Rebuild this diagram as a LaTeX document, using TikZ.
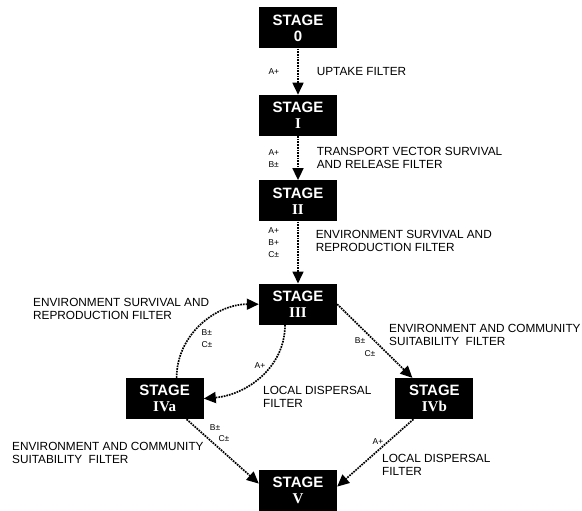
\documentclass[tikz,border=0pt]{standalone}
\usepackage{fontspec}
\setmainfont{Liberation Sans}
\newfontfamily\numfont{Liberation Serif}
\usetikzlibrary{arrows.meta, positioning}

\begin{document}
\begin{tikzpicture}[
    x=1pt, y=-1pt,
    node distance=46pt and 55pt,
    stagebox/.style={fill=black, text=white, minimum width=78pt, minimum height=41pt, inner sep=0pt, align=center, font=\fontsize{15}{16}\selectfont\bfseries},
    txt/.style={anchor=west, align=left, inner sep=0pt, font=\fontsize{11.8}{12.5}\selectfont},
    lbl/.style={align=left, inner sep=0pt, font=\fontsize{8.5}{12}\selectfont},
    arr/.style={-{Triangle[length=12pt,width=11pt]}, densely dotted, line width=1.7pt}
]
\useasboundingbox (0,0) rectangle (582,511);

% Stages, main column
\node[stagebox] (s0) at (298,28) {STAGE\\0};
\node[stagebox, below=46pt of s0] (s1) {STAGE\\{\numfont I}};
\node[stagebox, below=44pt of s1] (s2) {STAGE\\{\numfont II}};
\node[stagebox, below=62pt of s2] (s3) {STAGE\\{\numfont III}};

% Branches and last stage
\node[stagebox, below left=53pt and 55pt of s3] (s4a) {STAGE\\{\numfont IVa}};
\node[stagebox, below right=53pt and 58pt of s3] (s4b) {STAGE\\{\numfont IVb}};
\node[stagebox, below=145pt of s3] (s5) {STAGE\\{\numfont V}};

% Vertical filters
\draw[arr] (s0) -- node[lbl, left=18pt] (l01) {A+} node[txt, right=18pt] (t01) {UPTAKE FILTER} (s1);
\draw[arr] (s1) -- node[lbl, left=18pt] (l12) {A+\\B±} node[txt, right=18pt] (t12) {TRANSPORT VECTOR SURVIVAL\\AND RELEASE FILTER} (s2);
\draw[arr] (s2) -- node[lbl, left=18pt, pos=0.34] (l23) {A+\\B+\\C±} node[txt, right=17pt, pos=0.31] (t23) {ENVIRONMENT SURVIVAL AND\\REPRODUCTION FILTER} (s3);

% Stage III and the two branches
\draw[arr] ([xshift=-13pt]s3.south) to[out=-90, in=5] (s4a.east);
\draw[arr] ([xshift=12pt]s4a.north) to[out=90, in=180] (s3.west);
\draw[arr] (s3.east) -- ([xshift=-22pt]s4b.north);

\node[lbl] (l3a) at (260,366) {A+};
\node[txt] (t3a) at (263,397) {LOCAL DISPERSAL\\FILTER};
\node[lbl] (la3) at (207,339) {B±\\C±};
\node[txt] (ta3) at (33,309) {ENVIRONMENT SURVIVAL AND\\REPRODUCTION FILTER};
\node[lbl] (l3b1) at (360,341) {B±};
\node[lbl] (l3b2) at (370,354) {C±};
\node[txt] (t3b) at (389,335) {ENVIRONMENT AND COMMUNITY\\SUITABILITY\ \ FILTER};

% Into stage V
\draw[arr] ([xshift=22pt]s4a.south) -- ([yshift=7pt]s5.west);
\draw[arr] ([xshift=-21pt]s4b.south) -- ([yshift=4pt]s5.east);

\node[lbl] (la51) at (215,428) {B±};
\node[lbl] (la52) at (224,439) {C±};
\node[txt] (ta5) at (12,453) {ENVIRONMENT AND COMMUNITY\\SUITABILITY\ \ FILTER};
\node[lbl] (lb5) at (378,442) {A+};
\node[txt] (tb5) at (382,465) {LOCAL DISPERSAL\\FILTER};

\end{tikzpicture}
\end{document}
